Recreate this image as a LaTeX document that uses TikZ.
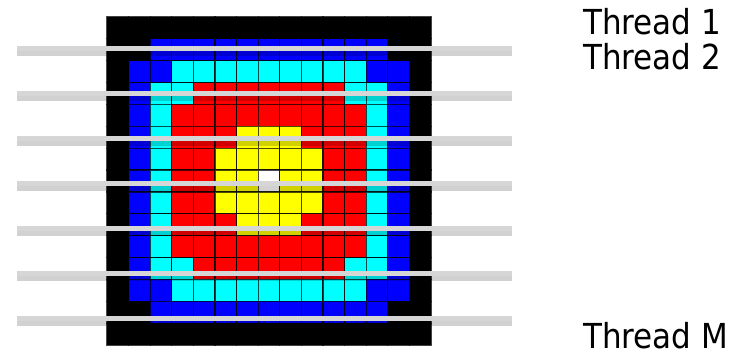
\documentclass[tikz,border=0pt]{standalone}
\usepackage{fontspec}
\setmainfont{DejaVu Sans Condensed}
\usepackage{tikz}
\usetikzlibrary{positioning}
\usepackage{xcolor}
\definecolor{cellK}{RGB}{0, 0, 0}
\definecolor{cellB}{RGB}{0, 0, 255}
\definecolor{cellC}{RGB}{0, 255, 255}
\definecolor{cellR}{RGB}{255, 0, 0}
\definecolor{cellY}{RGB}{255, 255, 0}
\definecolor{cellW}{RGB}{255, 255, 255}
\definecolor{BarGray}{RGB}{214, 214, 214}

\begin{document}
\begin{tikzpicture}[x=0.02cm,y=-0.02cm,
    every node/.style={font=\fontsize{19.6}{23}\selectfont,inner sep=0pt,anchor=base west},
    cellbox/.style={draw=black,draw opacity=0.7,line width=0.7pt}]
    \useasboundingbox (0,0) rectangle (733,354);
    % the grid, row by row
    \fill[cellK] (107,17) rectangle (431,345);
    \foreach \row [count=\j from 0] in {
        {K,K,K,K,K,K,K,K,K,K,K,K,K,K,K},
        {K,K,B,B,B,B,B,B,B,B,B,B,B,K,K},
        {K,B,B,C,C,C,C,C,C,C,C,C,B,B,K},
        {K,B,C,C,R,R,R,R,R,R,R,C,C,B,K},
        {K,B,C,R,R,R,R,R,R,R,R,R,C,B,K},
        {K,B,C,R,R,R,Y,Y,Y,R,R,R,C,B,K},
        {K,B,C,R,R,Y,Y,Y,Y,Y,R,R,C,B,K},
        {K,B,C,R,R,Y,Y,W,Y,Y,R,R,C,B,K},
        {K,B,C,R,R,Y,Y,Y,Y,Y,R,R,C,B,K},
        {K,B,C,R,R,R,Y,Y,Y,R,R,R,C,B,K},
        {K,B,C,R,R,R,R,R,R,R,R,R,C,B,K},
        {K,B,C,C,R,R,R,R,R,R,R,C,C,B,K},
        {K,B,B,C,C,C,C,C,C,C,C,C,B,B,K},
        {K,K,B,B,B,B,B,B,B,B,B,B,B,K,K},
        {K,K,K,K,K,K,K,K,K,K,K,K,K,K,K}}{
      \foreach \c [count=\i from 0] in \row {
        \filldraw[cellbox,fill=cell\c] ({107+21.6*\i},{17+21.867*\j}) rectangle ++(21.6,21.867);
      }
    }
    \fill[cellK,even odd rule] (107,17) rectangle (431,345) (128.6,38.9) rectangle (409.4,323.1);
    % thread bars
    \foreach \n in {0,...,6}{
      \fill[black,opacity=0.18] (16.7,{51+45*\n}) rectangle (511.7,{56+45*\n});
      \fill[BarGray] (16.7,{46+45*\n}) rectangle (511.7,{51+45*\n});
    }
    \node (t1) at (583,35) {Thread 1};
    \node (t2) at (583,70) {Thread 2};
    \node (tm) at (583,348) {Thread M};
\end{tikzpicture}
\end{document}
